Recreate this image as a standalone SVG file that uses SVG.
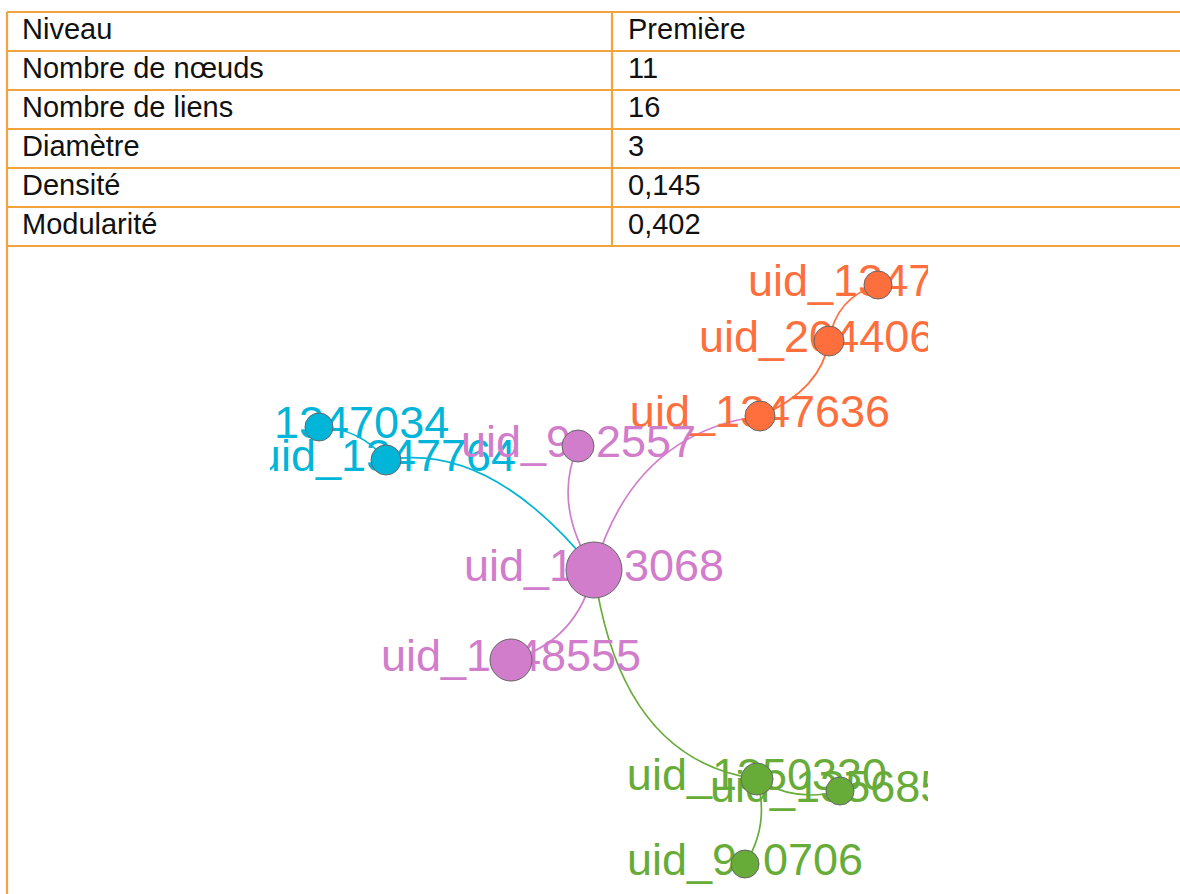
<svg xmlns="http://www.w3.org/2000/svg" width="1180" height="894" viewBox="0 0 1180 894">
<style>
.tl{stroke:#F2A33C;stroke-width:2.2;fill:none}
.tt{font-family:"Liberation Sans",Arial,sans-serif;font-size:29px;fill:#111}
.lb{font-family:"Liberation Sans",Arial,sans-serif;font-size:45px}
.e{fill:none;stroke-width:1.7}
.n{stroke:#666;stroke-width:1}
.pk{fill:#D17DCB}.or{fill:#FF6F3D}.cy{fill:#00B5D8}.gr{fill:#67AC39}
.epk{stroke:#D17DCB}.eor{stroke:#FF6F3D}.ecy{stroke:#00B5D8}.egr{stroke:#67AC39}
</style>
<defs>
<clipPath id="gc"><rect x="270" y="247" width="658" height="647"/></clipPath>
</defs>
<rect width="1180" height="894" fill="#fff"/>
<g id="table">
<path class="tl" d="M7,12H1180M7,51H1180M7,90H1180M7,129H1180M7,168H1180M7,207H1180M7,246H1180M7,12V894M612,12V246"/>
<text class="tt" x="22" y="39">Niveau</text>
<text class="tt" x="628" y="39">Première</text>
<text class="tt" x="22" y="78">Nombre de nœuds</text>
<text class="tt" x="628" y="78">11</text>
<text class="tt" x="22" y="117">Nombre de liens</text>
<text class="tt" x="628" y="117">16</text>
<text class="tt" x="22" y="156">Diamètre</text>
<text class="tt" x="628" y="156">3</text>
<text class="tt" x="22" y="195">Densité</text>
<text class="tt" x="628" y="195">0,145</text>
<text class="tt" x="22" y="234">Modularité</text>
<text class="tt" x="628" y="234">0,402</text>
</g>
<g id="graph" clip-path="url(#gc)">
<g id="connectors">
<path class="e ecy" d="M319,427 Q360,428 386,460"/>
<path class="e ecy" d="M386,460 Q490,441 594,570"/>
<path class="e epk" d="M578,446 Q552,505 594,570"/>
<path class="e epk" d="M594,570 Q633,433 760,416"/>
<path class="e eor" d="M760,416 Q821,390 829,341"/>
<path class="e eor" d="M829,341 Q836,297 878,285"/>
<path class="e epk" d="M594,570 Q578,641 511,660"/>
<path class="e egr" d="M594,570 Q620,760 757,779"/>
<path class="e egr" d="M757,779 Q795,803 840,791"/>
<path class="e egr" d="M757,779 Q770,825 745,864"/>
</g>
<g id="labels" class="lb">
<text class="or" x="748" y="296">uid_1347</text>
<text class="or" x="699" y="352">uid_204406</text>
<text class="or" x="760" y="427" text-anchor="middle">uid_1347636</text>
<text class="cy" x="274" y="438">1347034</text>
<text class="cy" x="386" y="471" text-anchor="middle">uid_1347764</text>
<text class="pk" x="461" y="457">uid_9</text>
<text class="pk" x="596" y="457">2557</text>
<text class="pk" x="464" y="581">uid_1</text>
<text class="pk" x="624" y="581">3068</text>
<text class="pk" x="381" y="671">uid_1</text>
<text class="pk" x="516" y="671">48555</text>
<text class="gr" x="757" y="790" text-anchor="middle">uid_1350330</text>
<text class="gr" x="710" y="802">uid_135685</text>
<text class="gr" x="627" y="875">uid_9</text>
<text class="gr" x="763" y="875">0706</text>
</g>
<g id="n_1347top"><circle class="n or" cx="878" cy="285" r="14"/></g>
<g id="n_204406"><circle class="n or" cx="829" cy="341" r="15"/></g>
<g id="n_1347636"><circle class="n or" cx="760" cy="416" r="15"/></g>
<g id="n_1347034"><circle class="n cy" cx="319" cy="427" r="14"/></g>
<g id="n_1347764"><circle class="n cy" cx="386" cy="460" r="15"/></g>
<g id="n_902557"><circle class="n pk" cx="578" cy="446" r="16"/></g>
<g id="n_central"><circle class="n pk" cx="594" cy="570" r="28"/></g>
<g id="n_1348555"><circle class="n pk" cx="511" cy="660" r="21"/></g>
<g id="n_1350330"><circle class="n gr" cx="757" cy="779" r="16"/></g>
<g id="n_135685"><circle class="n gr" cx="840" cy="791" r="14"/></g>
<g id="n_960706"><circle class="n gr" cx="745" cy="864" r="14"/></g>
</g>
</svg>
